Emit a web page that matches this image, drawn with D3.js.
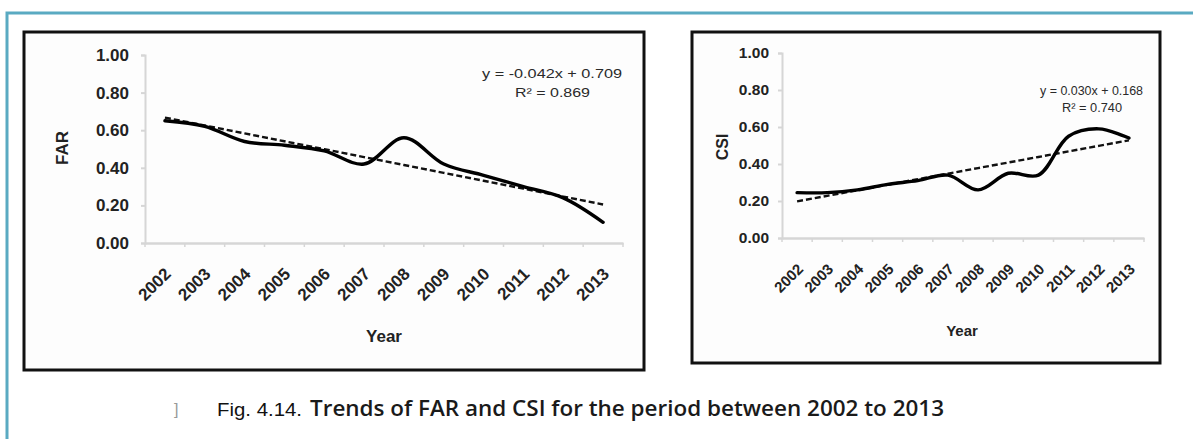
<!DOCTYPE html>
<html>
<head>
<meta charset="utf-8">
<script src="https://cdn.jsdelivr.net/npm/d3@7"></script>
<style>
  body { margin: 0; background: #fff; }
  svg { display: block; }
  .tick-label { font-family: Arial, "Liberation Sans", sans-serif; font-weight: bold; fill: #222; }
  .axis-title { font-family: Arial, "Liberation Sans", sans-serif; font-weight: bold; fill: #222; }
  .eq { font-family: Arial, "Liberation Sans", sans-serif; fill: #2a2a2a; }
</style>
</head>
<body>
<svg id="fig" width="1193" height="439"></svg>
<script>
// Data
const years = ['2002', '2003', '2004', '2005', '2006', '2007', '2008', '2009', '2010', '2011', '2012', '2013'];
const farValues = [0.65, 0.62, 0.54, 0.52, 0.49, 0.42, 0.56, 0.42, 0.36, 0.30, 0.24, 0.11];
const csiValues = [0.245, 0.245, 0.26, 0.29, 0.31, 0.34, 0.26, 0.35, 0.34, 0.55, 0.59, 0.54];
const yTicks = [0, 0.2, 0.4, 0.6, 0.8, 1.0];
// linear trend lines as printed on the charts
const farTrend = [-0.042, 0.709];
const csiTrend = [0.030, 0.168];
const farEquation = ['y = -0.042x + 0.709', 'R\u00b2 = 0.869'];
const csiEquation = ['y = 0.030x + 0.168', 'R\u00b2 = 0.740'];

const svg = d3.select('#fig');

// outer teal frame (top and left edges)
svg.append('path')
  .attr('d', 'M7,439 L7,13 L1193,13')
  .attr('fill', 'none')
  .attr('stroke', '#5aaac2')
  .attr('stroke-width', 3);

function drawPanel(opts) {
  const g = svg.append('g');

  // panel box
  g.append('rect')
    .attr('x', opts.box[0]).attr('y', opts.box[1])
    .attr('width', opts.box[2]).attr('height', opts.box[3])
    .attr('fill', '#fdfdfd')
    .attr('stroke', '#111')
    .attr('stroke-width', 3);

  const x = d3.scalePoint().domain(years).range([opts.left, opts.right]).padding(0.5);
  const y = d3.scaleLinear().domain([0, 1]).range([opts.bottom, opts.top]);

  // y axis
  const yAxis = g.append('g')
    .attr('transform', `translate(${opts.left},0)`)
    .call(d3.axisLeft(y).tickValues(yTicks).tickSize(4).tickPadding(opts.yPad).tickFormat(d3.format('.2f')));
  yAxis.select('.domain').attr('stroke', '#d6d6d6').attr('stroke-width', 2);
  yAxis.selectAll('.tick line').attr('stroke', '#d6d6d6').attr('stroke-width', 2);
  yAxis.selectAll('.tick text')
    .attr('class', 'tick-label')
    .style('font-size', opts.yFont + 'px');

  // x axis
  const step = x.step();
  const xAxis = g.append('g')
    .attr('transform', `translate(0,${opts.bottom})`)
    .call(d3.axisBottom(x).tickSize(0).tickFormat(''));
  xAxis.select('.domain').attr('stroke', '#d6d6d6').attr('stroke-width', 2.5);
  xAxis.selectAll('.tick').remove();
  // category boundary tick marks
  g.selectAll('.xb')
    .data(d3.range(years.length + 1))
    .enter().append('line')
    .attr('x1', i => opts.left + i * step)
    .attr('x2', i => opts.left + i * step)
    .attr('y1', opts.bottom)
    .attr('y2', opts.bottom + 4)
    .attr('stroke', '#d6d6d6')
    .attr('stroke-width', 1.5);

  // rotated year labels
  g.selectAll('.xl')
    .data(years)
    .enter().append('text')
    .attr('class', 'tick-label')
    .style('font-size', opts.xFont + 'px')
    .attr('text-anchor', 'end')
    .attr('transform', d => `translate(${x(d) + opts.xLabelDx},${opts.bottom + opts.xLabelDy}) rotate(-45)`)
    .text(d => d);

  // axis titles
  g.append('text')
    .attr('class', 'axis-title')
    .style('font-size', opts.yTitleFont + 'px')
    .attr('text-anchor', 'middle')
    .attr('transform', `translate(${opts.yTitle[0]},${opts.yTitle[1]}) rotate(-90)`)
    .text(opts.name);
  g.append('text')
    .attr('class', 'axis-title')
    .style('font-size', opts.xTitleFont + 'px')
    .attr('text-anchor', 'middle')
    .attr('x', opts.xTitle[0]).attr('y', opts.xTitle[1])
    .text('Year');

  // trend line (dashed)
  const trend = years.map((d, i) => [d, opts.trend[0] * (i + 1) + opts.trend[1]]);
  g.append('path')
    .datum(trend)
    .attr('fill', 'none')
    .attr('stroke', '#111')
    .attr('stroke-width', 2.4)
    .attr('stroke-dasharray', '6,3')
    .attr('d', d3.line().x(d => x(d[0])).y(d => y(d[1])));

  // smoothed series line
  g.append('path')
    .datum(opts.values)
    .attr('fill', 'none')
    .attr('stroke', '#000')
    .attr('stroke-width', 3.4)
    .attr('stroke-linecap', 'round')
    .attr('d', d3.line().x((d, i) => x(years[i])).y(d => y(d)).curve(d3.curveCatmullRom));

  // equation
  g.append('text')
    .attr('class', 'eq')
    .style('font-size', opts.eqFont + 'px')
    .attr('x', opts.eq[0]).attr('y', opts.eq[1])
    .attr('textLength', opts.eq[2])
    .attr('lengthAdjust', 'spacingAndGlyphs')
    .text(opts.equation[0]);
  g.append('text')
    .attr('class', 'eq')
    .style('font-size', opts.eqFont + 'px')
    .attr('x', opts.eq[3]).attr('y', opts.eq[4])
    .attr('textLength', opts.eq[5])
    .attr('lengthAdjust', 'spacingAndGlyphs')
    .text(opts.equation[1]);
}

drawPanel({
  name: 'FAR', values: farValues, trend: farTrend, equation: farEquation,
  box: [24, 32, 620, 338],
  left: 145, right: 623, top: 55, bottom: 243,
  yPad: 12, yFont: 17, xFont: 17, yTitleFont: 17, xTitleFont: 17,
  xLabelDx: 7, xLabelDy: 32,
  yTitle: [68, 148], xTitle: [384, 342],
  eq: [482, 78, 140, 515, 97, 75], eqFont: 13.5
});

drawPanel({
  name: 'CSI', values: csiValues, trend: csiTrend, equation: csiEquation,
  box: [692, 32, 468, 331],
  left: 782, right: 1144, top: 53, bottom: 238,
  yPad: 9, yFont: 15.5, xFont: 15, yTitleFont: 16, xTitleFont: 15,
  xLabelDx: 7, xLabelDy: 32,
  yTitle: [728, 147], xTitle: [962, 336],
  eq: [1040, 95, 103, 1062, 112, 60], eqFont: 12
});

// caption
svg.append('text')
  .attr('x', 174).attr('y', 415)
  .style('font-family', 'Arial, sans-serif')
  .style('font-size', '16px')
  .attr('fill', '#999')
  .text(']');
svg.append('text')
  .attr('x', 217).attr('y', 416)
  .style('font-family', '"Liberation Sans Narrow", Arial, sans-serif')
  .style('font-size', '18px')
  .attr('fill', '#111')
  .attr('textLength', 85)
  .attr('lengthAdjust', 'spacingAndGlyphs')
  .text('Fig. 4.14.');
svg.append('text')
  .attr('x', 310).attr('y', 416)
  .style('font-family', '"Open Sans", "Noto Sans", sans-serif')
  .style('font-size', '21px')
  .style('font-weight', 600)
  .attr('fill', '#1a1a1a')
  .attr('textLength', 634)
  .attr('lengthAdjust', 'spacingAndGlyphs')
  .text('Trends of FAR and CSI for the period between 2002 to 2013');
</script>
</body>
</html>
